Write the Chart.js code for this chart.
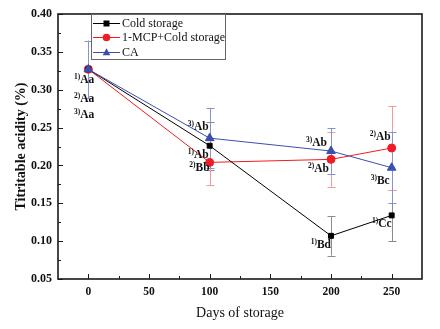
<!DOCTYPE html>
<html>
<head>
<meta charset="utf-8">
<script src="https://cdn.jsdelivr.net/npm/chart.js@4.4.1/dist/chart.umd.min.js"></script>
<style>
  html, body { margin: 0; padding: 0; background: #fff; }
</style>
</head>
<body>
<canvas id="acidity-chart" width="440" height="329"></canvas>
<script>
// ---- data ----
const days = [0, 100, 200, 250];

const coldValues = [0.327, 0.226, 0.107, 0.134];
const coldErrors = [0.000, 0.032, 0.026, 0.034];
const coldLetters = ['Aa', 'Ab', 'Bd', 'Cc'];

const mcpValues = [0.327, 0.204, 0.208, 0.223];
const mcpErrors = [0.000, 0.030, 0.036, 0.055];
const mcpLetters = ['Aa', 'Bb', 'Ab', 'Ab'];

const caValues = [0.327, 0.236, 0.219, 0.197];
const caErrors = [0.038, 0.040, 0.030, 0.047];
const caLetters = ['Aa', 'Ab', 'Ab', 'Bc'];

const xTickValues = [0, 50, 100, 150, 200, 250];
const yTickValues = [0.05, 0.10, 0.15, 0.20, 0.25, 0.30, 0.35, 0.40];

const SERIF = '"Liberation Serif", "Times New Roman", serif';

function toPoints(values) {
    return days.map((d, i) => ({ x: d, y: values[i] }));
}

// vertical error bars with caps, drawn under the markers
const errorBarsPlugin = {
    id: 'errorBars',
    beforeDatasetsDraw(chart) {
        const ctx = chart.ctx;
        const yScale = chart.scales.y;
        chart.data.datasets.forEach((ds, di) => {
            const meta = chart.getDatasetMeta(di);
            ctx.save();
            ctx.strokeStyle = ds.errorColor;
            ctx.lineWidth = 1;
            meta.data.forEach((pt, i) => {
                const err = ds.errors[i];
                if (!err) return;
                const v = ds.data[i].y;
                const x = Math.round(pt.x) + 0.5;
                const yTop = yScale.getPixelForValue(v + err);
                const yBot = yScale.getPixelForValue(v - err);
                ctx.beginPath();
                ctx.moveTo(x, yTop);
                ctx.lineTo(x, yBot);
                ctx.moveTo(x - 4, Math.round(yTop) + 0.5);
                ctx.lineTo(x + 4, Math.round(yTop) + 0.5);
                ctx.moveTo(x - 4, Math.round(yBot) + 0.5);
                ctx.lineTo(x + 4, Math.round(yBot) + 0.5);
                ctx.stroke();
            });
            ctx.restore();
        });
    }
};

// significance letters next to each point, e.g. "1)Aa"
const lettersPlugin = {
    id: 'letters',
    afterDatasetsDraw(chart) {
        const ctx = chart.ctx;
        ctx.save();
        ctx.fillStyle = '#111';
        ctx.textBaseline = 'middle';
        chart.data.datasets.forEach((ds, di) => {
            const meta = chart.getDatasetMeta(di);
            meta.data.forEach((pt, i) => {
                const [dx, dy] = ds.letterOffsets[i];
                const right = pt.x + dx;
                const y = pt.y + dy;
                ctx.font = 'bold 11.5px ' + SERIF;
                const w = ctx.measureText(ds.letters[i]).width;
                ctx.fillText(ds.letters[i], right - w, y);
                ctx.font = 'bold 7.5px ' + SERIF;
                const pw = ctx.measureText(ds.prefix).width;
                ctx.fillText(ds.prefix, right - w - pw, y - 3);
            });
        });
        ctx.restore();
    }
};

function drawMarker(ctx, style, x, y, r) {
    ctx.beginPath();
    if (style === 'rect') {
        ctx.rect(x - r, y - r, 2 * r, 2 * r);
    } else if (style === 'circle') {
        ctx.arc(x, y, r, 0, Math.PI * 2);
    } else {
        ctx.moveTo(x, y - r * 1.1);
        ctx.lineTo(x + r, y + r * 0.7);
        ctx.lineTo(x - r, y + r * 0.7);
        ctx.closePath();
    }
    ctx.fill();
}

// frame, inward ticks and the boxed legend
const framePlugin = {
    id: 'frame',
    afterDraw(chart) {
        const ctx = chart.ctx;
        const { left, right, top, bottom } = chart.chartArea;
        const xs = chart.scales.x;
        const ys = chart.scales.y;
        ctx.save();
        ctx.strokeStyle = '#1a1a1a';
        ctx.lineWidth = 1;
        ctx.beginPath();
        xTickValues.forEach((v, i) => {
            const x = Math.round(xs.getPixelForValue(v)) + 0.5;
            ctx.moveTo(x, bottom);
            ctx.lineTo(x, bottom - 5);
            if (i < xTickValues.length - 1) {
                const xm = Math.round(xs.getPixelForValue((v + xTickValues[i + 1]) / 2)) + 0.5;
                ctx.moveTo(xm, bottom);
                ctx.lineTo(xm, bottom - 3);
            }
        });
        yTickValues.forEach((v, i) => {
            const y = Math.round(ys.getPixelForValue(v)) + 0.5;
            ctx.moveTo(left, y);
            ctx.lineTo(left + 5, y);
            if (i < yTickValues.length - 1) {
                const ym = Math.round(ys.getPixelForValue((v + yTickValues[i + 1]) / 2)) + 0.5;
                ctx.moveTo(left, ym);
                ctx.lineTo(left + 3, ym);
            }
        });
        ctx.stroke();

        ctx.lineWidth = 1.6;
        ctx.strokeRect(left, top, right - left, bottom - top);

        // legend
        const bx = left + 33, by = top, bw = 134, bh = 45;
        ctx.fillStyle = '#fff';
        ctx.fillRect(bx, by, bw, bh);
        ctx.strokeStyle = '#666';
        ctx.lineWidth = 1;
        ctx.strokeRect(bx + 0.5, by + 0.5, bw, bh);
        const rows = [9, 23, 38];
        ctx.font = '12px ' + SERIF;
        ctx.textBaseline = 'middle';
        chart.data.datasets.forEach((ds, di) => {
            const y = by + rows[di];
            ctx.strokeStyle = ds.borderColor;
            ctx.lineWidth = 1;
            ctx.beginPath();
            ctx.moveTo(bx + 2, y + 0.5);
            ctx.lineTo(bx + 29, y + 0.5);
            ctx.stroke();
            ctx.fillStyle = ds.backgroundColor;
            drawMarker(ctx, ds.pointStyle, bx + 15.5, y + 0.5, ds.pointStyle === 'rect' ? 3 : 3.8);
            ctx.fillStyle = '#111';
            ctx.fillText(ds.label, bx + 31, y + 1);
        });
        ctx.restore();
    }
};

new Chart(document.getElementById('acidity-chart'), {
    type: 'scatter',
    data: {
        datasets: [
            {
                label: 'Cold storage',
                data: toPoints(coldValues),
                errors: coldErrors,
                letters: coldLetters,
                prefix: '1)',
                letterOffsets: [[6, 11], [-1, 9], [0, 9], [0, 9]],
                showLine: true,
                borderColor: '#000',
                backgroundColor: '#000',
                errorColor: '#8c8c8c',
                borderWidth: 1,
                pointStyle: 'rect',
                pointRadius: 3.5,
                order: 1
            },
            {
                label: '1-MCP+Cold storage',
                data: toPoints(mcpValues),
                errors: mcpErrors,
                letters: mcpLetters,
                prefix: '2)',
                letterOffsets: [[6, 30], [0, 6], [-2, 10], [-1, -11]],
                showLine: true,
                borderColor: '#ee1c24',
                backgroundColor: '#ee1c24',
                errorColor: '#f29a9a',
                borderWidth: 1,
                pointStyle: 'circle',
                pointRadius: 4,
                order: 2
            },
            {
                label: 'CA',
                data: toPoints(caValues),
                errors: caErrors,
                letters: caLetters,
                prefix: '3)',
                letterOffsets: [[6, 46], [-1, -11], [-4, -8], [-2, 13]],
                showLine: true,
                borderColor: '#3b4fb0',
                backgroundColor: '#3b4fb0',
                errorColor: '#8593d2',
                borderWidth: 1,
                pointStyle: 'triangle',
                pointRadius: 5,
                order: 0
            }
        ]
    },
    options: {
        responsive: false,
        animation: false,
        devicePixelRatio: 1,
        layout: { padding: { top: 14, right: 18, left: 0, bottom: 0 } },
        plugins: {
            legend: { display: false },
            tooltip: { enabled: false }
        },
        scales: {
            x: {
                type: 'linear',
                min: -25,
                max: 275,
                afterBuildTicks: s => { s.ticks = xTickValues.map(v => ({ value: v })); },
                afterFit: s => { s.height = 50; },
                grid: { display: false, drawTicks: false },
                border: { display: false },
                ticks: {
                    color: '#111',
                    padding: 6,
                    font: { family: SERIF, size: 11.5, weight: 'bold' }
                },
                title: {
                    display: true,
                    text: 'Days of storage',
                    color: '#111',
                    font: { family: SERIF, size: 14 },
                    padding: { top: 0, bottom: 7 }
                }
            },
            y: {
                min: 0.05,
                max: 0.40,
                afterBuildTicks: s => { s.ticks = yTickValues.map(v => ({ value: v })); },
                afterFit: s => { s.width = 58; },
                grid: { display: false, drawTicks: false },
                border: { display: false },
                ticks: {
                    color: '#111',
                    padding: 6,
                    font: { family: SERIF, size: 12, weight: 'bold' },
                    callback: v => v.toFixed(2)
                },
                title: {
                    display: true,
                    text: 'Titritable acidity (%)',
                    color: '#111',
                    font: { family: SERIF, size: 14, weight: 'bold' },
                    padding: { top: 13, bottom: 0 }
                }
            }
        }
    },
    plugins: [errorBarsPlugin, lettersPlugin, framePlugin]
});
</script>
</body>
</html>
